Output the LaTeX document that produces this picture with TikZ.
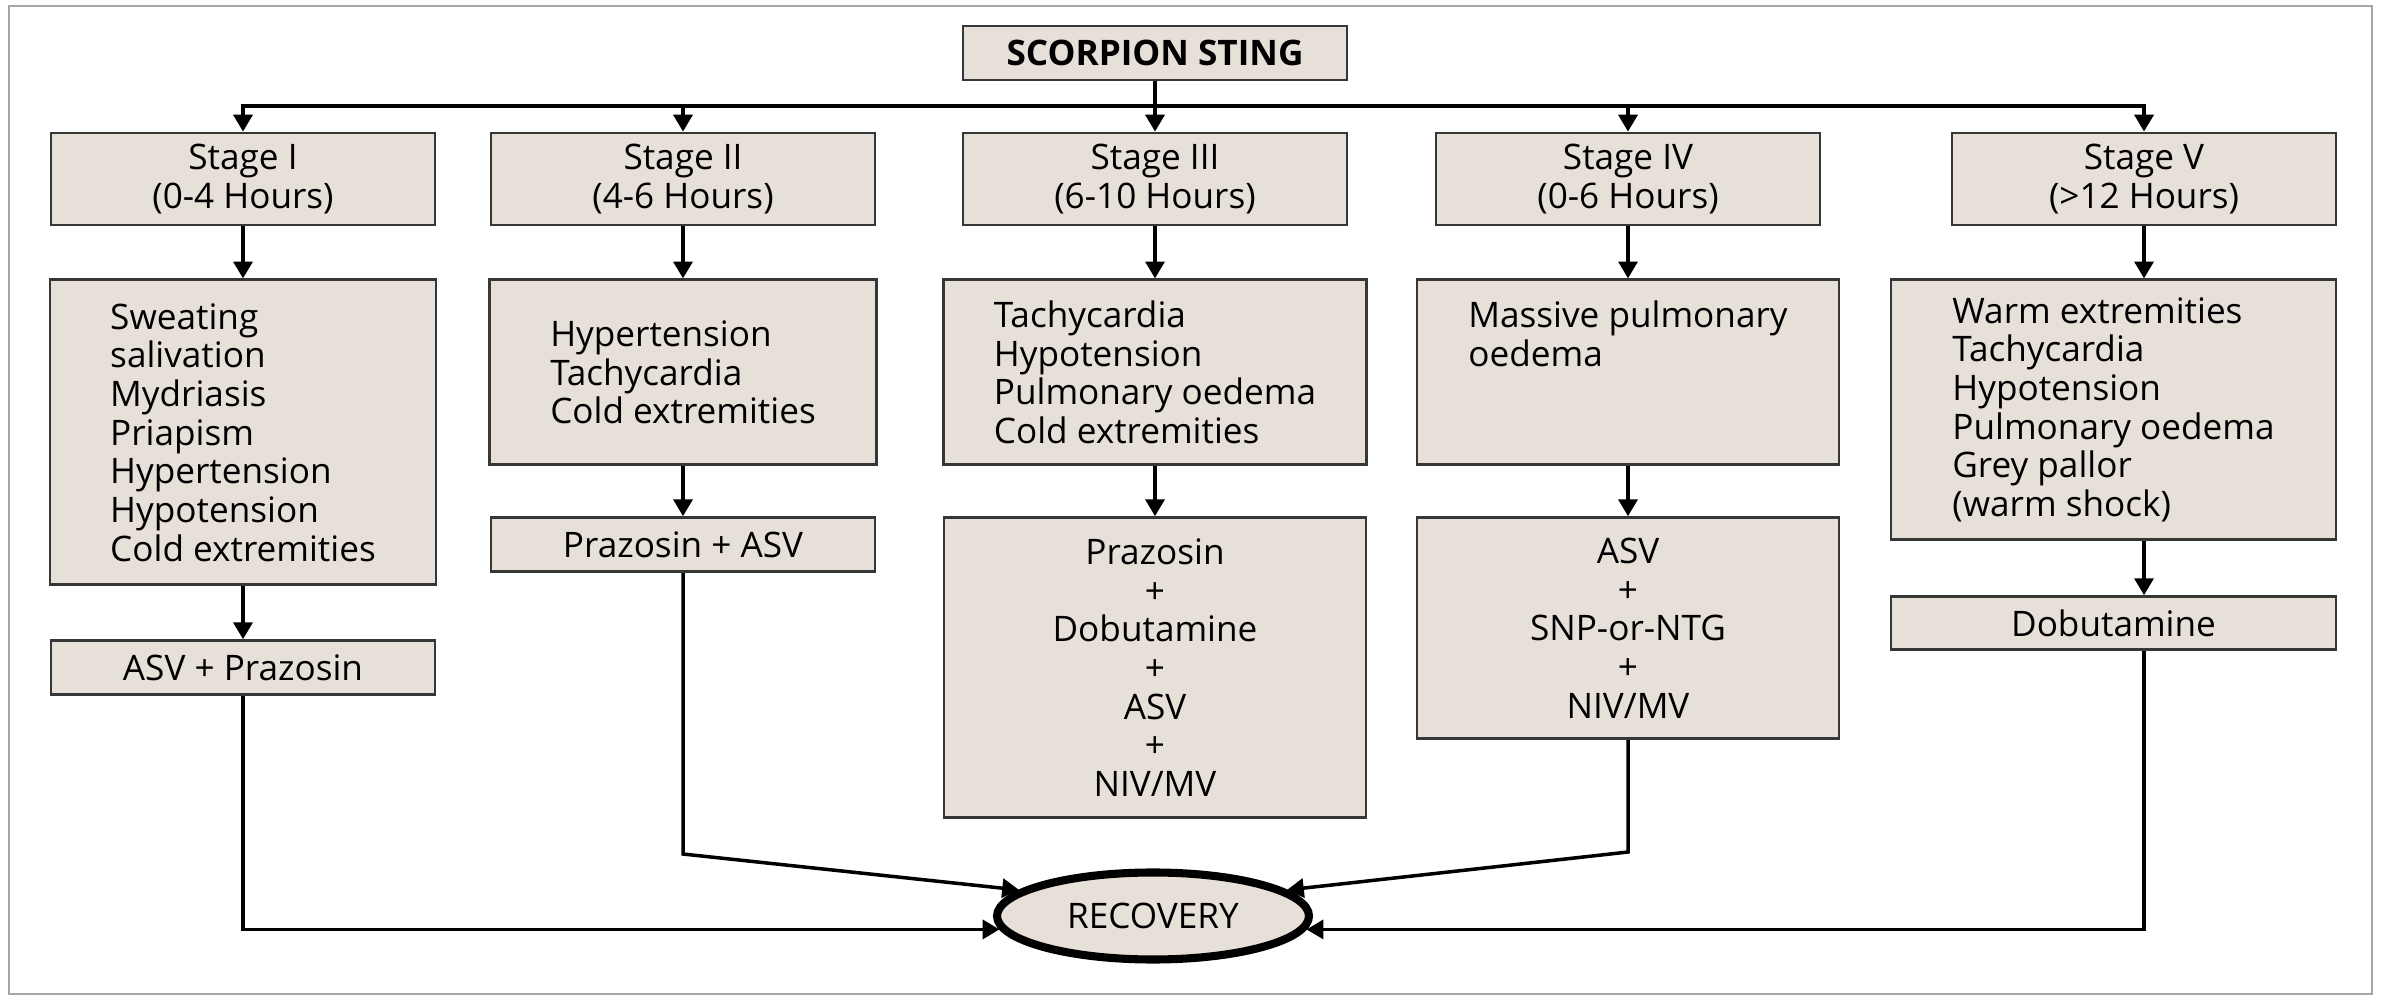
\documentclass[tikz,border=0pt]{standalone}
\usepackage{fontspec}
\setmainfont{Open Sans}
\usetikzlibrary{arrows.meta,positioning,shapes.geometric}
\definecolor{boxfill}{RGB}{231,224,216}
\definecolor{boxline}{RGB}{55,55,55}
\tikzset{
  box/.style={draw=boxline,line width=0.8pt,fill=boxfill,inner sep=0pt,align=center},
  lbox/.style={box,align=left},
  arr/.style={-{Triangle[length=4.8pt,width=5.4pt]},line width=1pt},
  oval/.style={ellipse,draw,line width=2.3pt,fill=boxfill,inner sep=0pt,
               minimum width=3.12cm,minimum height=0.87cm},
}
\begin{document}
\begin{tikzpicture}[font=\fontsize{10}{11}\selectfont]
  \useasboundingbox (0,0) rectangle (23.82,9.96);
  \draw[gray!70,line width=0.8pt] (0.09,0.02) rectangle (23.72,9.90);
  % top and stages
  \node[box,minimum width=3.84cm,minimum height=0.54cm,font=\fontsize{10}{11}\selectfont\bfseries] (sting) at (11.55,9.43) {SCORPION STING};
  \node[box,minimum width=3.84cm,minimum height=0.92cm] (st1) at (2.43,8.17) {Stage I\\(0-4 Hours)};
  \node[box,minimum width=3.84cm,minimum height=0.92cm] (st2) at (6.83,8.17) {Stage II\\(4-6 Hours)};
  \node[box,minimum width=3.84cm,minimum height=0.92cm] (st3) at (11.55,8.17) {Stage III\\(6-10 Hours)};
  \node[box,minimum width=3.84cm,minimum height=0.92cm] (st4) at (16.28,8.17) {Stage IV\\(0-6 Hours)};
  \node[box,minimum width=3.84cm,minimum height=0.92cm] (st5) at (21.44,8.17) {Stage V\\(>12 Hours)};
  % symptoms
  \node[lbox,minimum width=3.86cm,minimum height=3.05cm,below=0.52 of st1] (sy1) {Sweating\\salivation\\Mydriasis\\Priapism\\Hypertension\\Hypotension\\Cold extremities};
  \node[lbox,minimum width=3.87cm,minimum height=1.85cm,below=0.52 of st2] (sy2) {Hypertension\\Tachycardia\\Cold extremities};
  \node[lbox,minimum width=4.23cm,minimum height=1.85cm,below=0.52 of st3] (sy3) {Tachycardia\\Hypotension\\Pulmonary oedema\\Cold extremities};
  \node[lbox,minimum width=4.22cm,minimum height=1.85cm,below=0.52 of st4] (sy4) {Massive pulmonary\\oedema\\\phantom{x}\\\phantom{x}};
  \node[lbox,minimum width=4.45cm,minimum height=2.60cm,below=0.52 of st5,xshift=-0.305cm] (sy5) {Warm extremities\\Tachycardia\\Hypotension\\Pulmonary oedema\\Grey pallor\\(warm shock)};
  % treatment
  \node[box,minimum width=3.84cm,minimum height=0.54cm,below=0.53 of sy1] (tr1) {ASV + Prazosin};
  \node[box,minimum width=3.84cm,minimum height=0.54cm,below=0.50 of sy2] (tr2) {Prazosin + ASV};
  \node[box,minimum width=4.22cm,minimum height=3.00cm,below=0.50 of sy3] (tr3) {Prazosin\\+\\Dobutamine\\+\\ASV\\+\\NIV/MV};
  \node[box,minimum width=4.22cm,minimum height=2.21cm,below=0.50 of sy4] (tr4) {ASV\\+\\SNP-or-NTG\\+\\NIV/MV};
  \node[box,minimum width=4.45cm,minimum height=0.53cm,below=0.54 of sy5] (tr5) {Dobutamine};
  \node[oval] (rec) at (11.53,0.80) {RECOVERY};
  % arrows
  \draw[line width=1pt] (sting) -- ++(0,-0.53) coordinate (bus);
  \draw[arr] (bus) -| (st1);
  \draw[arr] (bus) -| (st2);
  \draw[arr] (bus) -- (st3);
  \draw[arr] (bus) -| (st4);
  \draw[arr] (bus) -| (st5);
  \draw[arr] (st1) -- (sy1); \draw[arr] (sy1) -- (tr1);
  \draw[arr] (st2) -- (sy2); \draw[arr] (sy2) -- (tr2);
  \draw[arr] (st3) -- (sy3); \draw[arr] (sy3) -- (tr3);
  \draw[arr] (st4) -- (sy4); \draw[arr] (sy4) -- (tr4);
  \draw[arr] (st5) -- (st5 |- sy5.north); \draw[arr] (st5 |- sy5.south) -- (st5 |- tr5.north);
  \draw[arr] (tr1) |- (rec.185);
  \draw[arr] (tr2.south) -- ++(0,-2.81) -- (rec.169);
  \draw[arr] (tr4.south) -- ++(0,-1.12) -- (rec.11);
  \draw[arr] (st5 |- tr5.south) |- (rec.355);
\end{tikzpicture}
\end{document}
